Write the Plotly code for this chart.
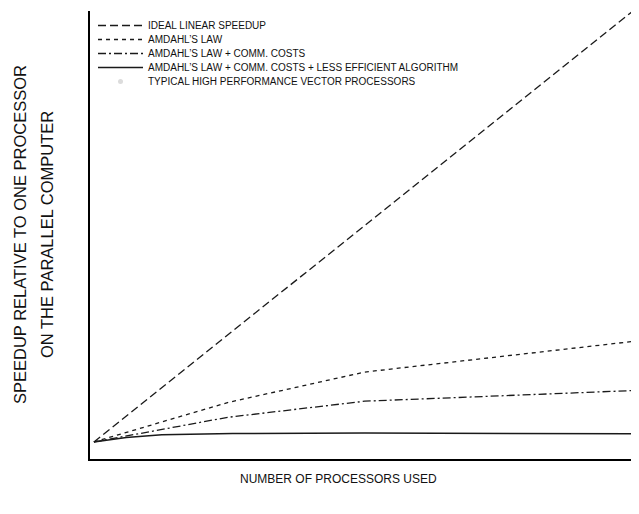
import plotly.graph_objects as go

# Data (processors used, speedup) in arbitrary chart units
ideal_x = [0.7, 100]
ideal_y = [3.8, 102.5]

amdahl_x = [0.7, 24.7, 49.3, 100]
amdahl_y = [3.8, 12.6, 19.4, 26.6]

comm_x = [0.7, 24.7, 49.3, 100]
comm_y = [3.8, 9.3, 12.9, 15.4]

algo_x = [0.7, 6.5, 12.9, 25.6, 49.3, 100]
algo_y = [3.8, 4.8, 5.4, 5.7, 5.8, 5.6]

vector_x = [None]
vector_y = [None]

names = [
    "IDEAL LINEAR SPEEDUP",
    "AMDAHL\u2019S LAW",
    "AMDAHL\u2019S LAW + COMM. COSTS",
    "AMDAHL\u2019S LAW + COMM. COSTS + LESS EFFICIENT ALGORITHM",
    "TYPICAL HIGH PERFORMANCE VECTOR PROCESSORS",
]

LC = "#1a1a1a"
fig = go.Figure()
fig.add_trace(go.Scatter(x=ideal_x, y=ideal_y, mode="lines", name=names[0], legend="legend",
                         cliponaxis=False,
                         line=dict(color=LC, width=1.3, dash="8px,4px")))
fig.add_trace(go.Scatter(x=amdahl_x, y=amdahl_y, mode="lines", name=names[1], legend="legend2",
                         line=dict(color=LC, width=1.3, dash="4px,4px")))
fig.add_trace(go.Scatter(x=comm_x, y=comm_y, mode="lines", name=names[2], legend="legend3",
                         line=dict(color=LC, width=1.3, dash="8px,3px,2px,3px")))
fig.add_trace(go.Scatter(x=algo_x, y=algo_y, mode="lines", name=names[3], legend="legend4",
                         line=dict(color=LC, width=1.5)))
fig.add_trace(go.Scatter(x=vector_x, y=vector_y, mode="markers", name=names[4], legend="legend5",
                         marker=dict(color="#dcdcdc", size=5)))

PLOT_H = 448.0
row_tops = [0, 14, 28, 42, 56]  # px below plot top
legends = {}
for i, top in enumerate(row_tops):
    key = "legend" if i == 0 else f"legend{i+1}"
    legends[key] = dict(x=0.0054, y=1 - top / PLOT_H,
                        xanchor="left", yanchor="top",
                        font=dict(size=10, color="#111"), bgcolor="rgba(0,0,0,0)",
                        itemwidth=45)

fig.update_layout(
    width=639, height=514,
    margin=dict(l=82, r=0, t=3, b=63),
    paper_bgcolor="white", plot_bgcolor="white",
    font=dict(family="Liberation Sans, Arial, sans-serif", color="#111"),
    showlegend=True,
    xaxis=dict(range=[0, 100], showgrid=False, zeroline=False, showticklabels=False,
               ticks="", showline=True, linecolor="#000", linewidth=1.5, fixedrange=True),
    yaxis=dict(range=[0, 100], showgrid=False, zeroline=False, showticklabels=False,
               ticks="", showline=True, linecolor="#000", linewidth=1.5, fixedrange=True),
    annotations=[
        dict(text="SPEEDUP RELATIVE TO ONE PROCESSOR", xref="paper", yref="paper",
             x=0, y=0.5, xshift=-70, textangle=-90, showarrow=False,
             font=dict(size=16.5, color="#111"), xanchor="center", yanchor="middle"),
        dict(text="ON THE PARALLEL COMPUTER", xref="paper", yref="paper",
             x=0, y=0.5, xshift=-43, textangle=-90, showarrow=False,
             font=dict(size=16.5, color="#111"), xanchor="center", yanchor="middle"),
        dict(text="NUMBER OF PROCESSORS USED", xref="paper", yref="paper",
             x=0.447, y=0, yshift=-20, showarrow=False,
             font=dict(size=12, color="#111"), xanchor="center", yanchor="middle"),
    ],
    **legends,
)

fig.write_html("out.html")
